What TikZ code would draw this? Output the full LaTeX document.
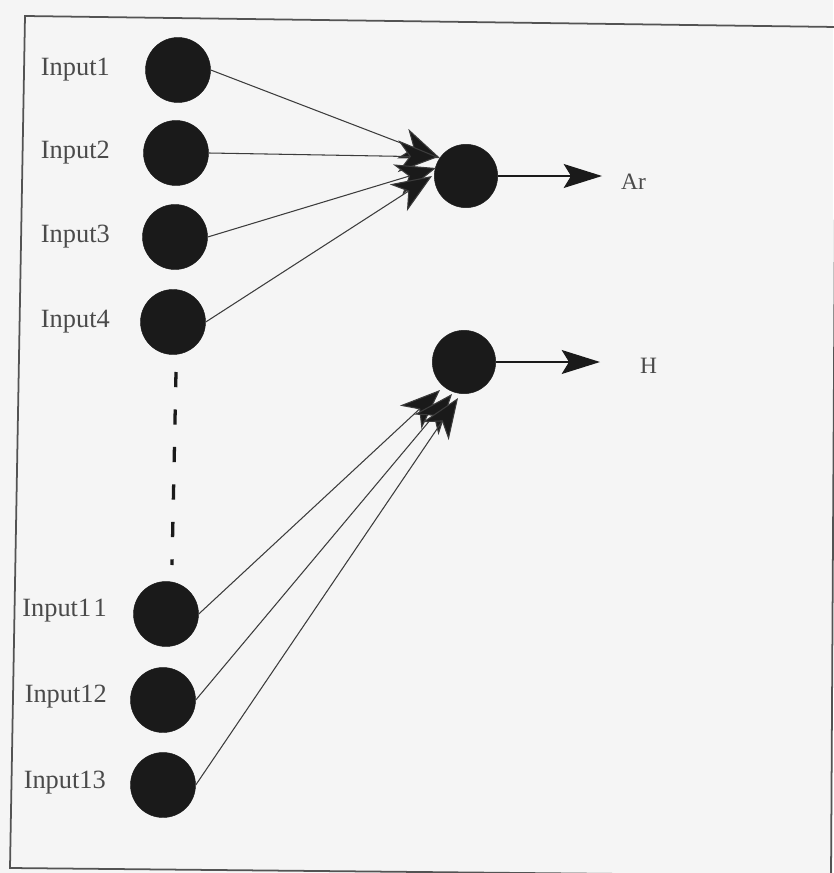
\documentclass[tikz,border=0pt]{standalone}
\usepackage{fontspec}
\setmainfont{Liberation Serif}
\usetikzlibrary{arrows.meta}
\definecolor{paper}{HTML}{F5F5F5}
\definecolor{ink}{HTML}{1A1A1A}
\definecolor{txt}{HTML}{4A4A4A}
\begin{document}
\begin{tikzpicture}[x=0.03cm,y=-0.03cm,
  neuron/.style={circle,fill=ink,draw=ink,minimum size=1.95cm,inner sep=0pt},
  outneuron/.style={circle,fill=ink,draw=ink,minimum size=1.9cm,inner sep=0pt},
  lbl/.style={font=\fontsize{22.5}{24}\selectfont,text=txt,anchor=east,inner sep=0pt},
  outlbl/.style={font=\fontsize{20}{22}\selectfont,text=txt,anchor=west,inner sep=0pt},
  link/.style={draw=ink!85,line width=0.9pt,-{Stealth[length=1.2cm,width=0.95cm,inset=0.35cm,fill=ink]}},
  outlink/.style={draw=ink,line width=1.2pt,-{Stealth[length=1.15cm,width=0.72cm,inset=0.22cm,fill=ink]}}]
  % page and frame
  \fill[paper] (0,0) rectangle (833,873);
  \useasboundingbox (0,0) rectangle (833,873);
  \draw[ink!75,line width=1.5pt] (25,16) -- (836,27) -- (831,876) -- (10,868) -- cycle;

  % input neurons
  \node[neuron] (i1) at (178,70) {};
  \node[neuron] (i2) at (176,153) {};
  \node[neuron] (i3) at (175,237) {};
  \node[neuron] (i4) at (173,322) {};
  \node[neuron] (i11) at (166,614) {};
  \node[neuron] (i12) at (163,700) {};
  \node[neuron] (i13) at (163,785) {};

  % input labels
  \node[lbl] (l1) at (110,70) {Input1};
  \node[lbl] (l2) at (110,153) {Input2};
  \node[lbl] (l3) at (110,237) {Input3};
  \node[lbl] (l4) at (110,322) {Input4};
  \node[lbl] (l11) at (107,611) {Input1\kern2pt1};
  \node[lbl] (l12) at (107,697) {Input12};
  \node[lbl] (l13) at (106,783) {Input13};

  % output neurons
  \node[outneuron] (ar) at (466,176) {};
  \node[outneuron] (h) at (464,362) {};

  % omitted inputs
  \coordinate (d1) at (176,372);
  \coordinate (d2) at (172,565);
  \draw[ink,line width=2.8pt,dash pattern=on 13pt off 19pt] (d1) -- (d2);

  % connections to the Ar neuron
  \draw[link] (i1.east) -- (440,158);
  \draw[link] (i2.east) -- (438,157);
  \draw[link] (i3.east) -- (436,168);
  \draw[link] (i4.east) -- (432,176);

  % connections to the H neuron
  \draw[link] (i11.east) -- (440,390);
  \draw[link] (i12.east) -- (452,394);
  \draw[link] (i13.east) -- (458,398);

  % outputs
  \coordinate (oa) at (602,176);
  \coordinate (oh) at (600,362);
  \draw[outlink] (ar.east) -- (oa);
  \draw[outlink] (h.east) -- (oh);
  \node[outlbl] (tar) at (621,182) {Ar};
  \node[outlbl] (th) at (640,366) {H};
\end{tikzpicture}
\end{document}
